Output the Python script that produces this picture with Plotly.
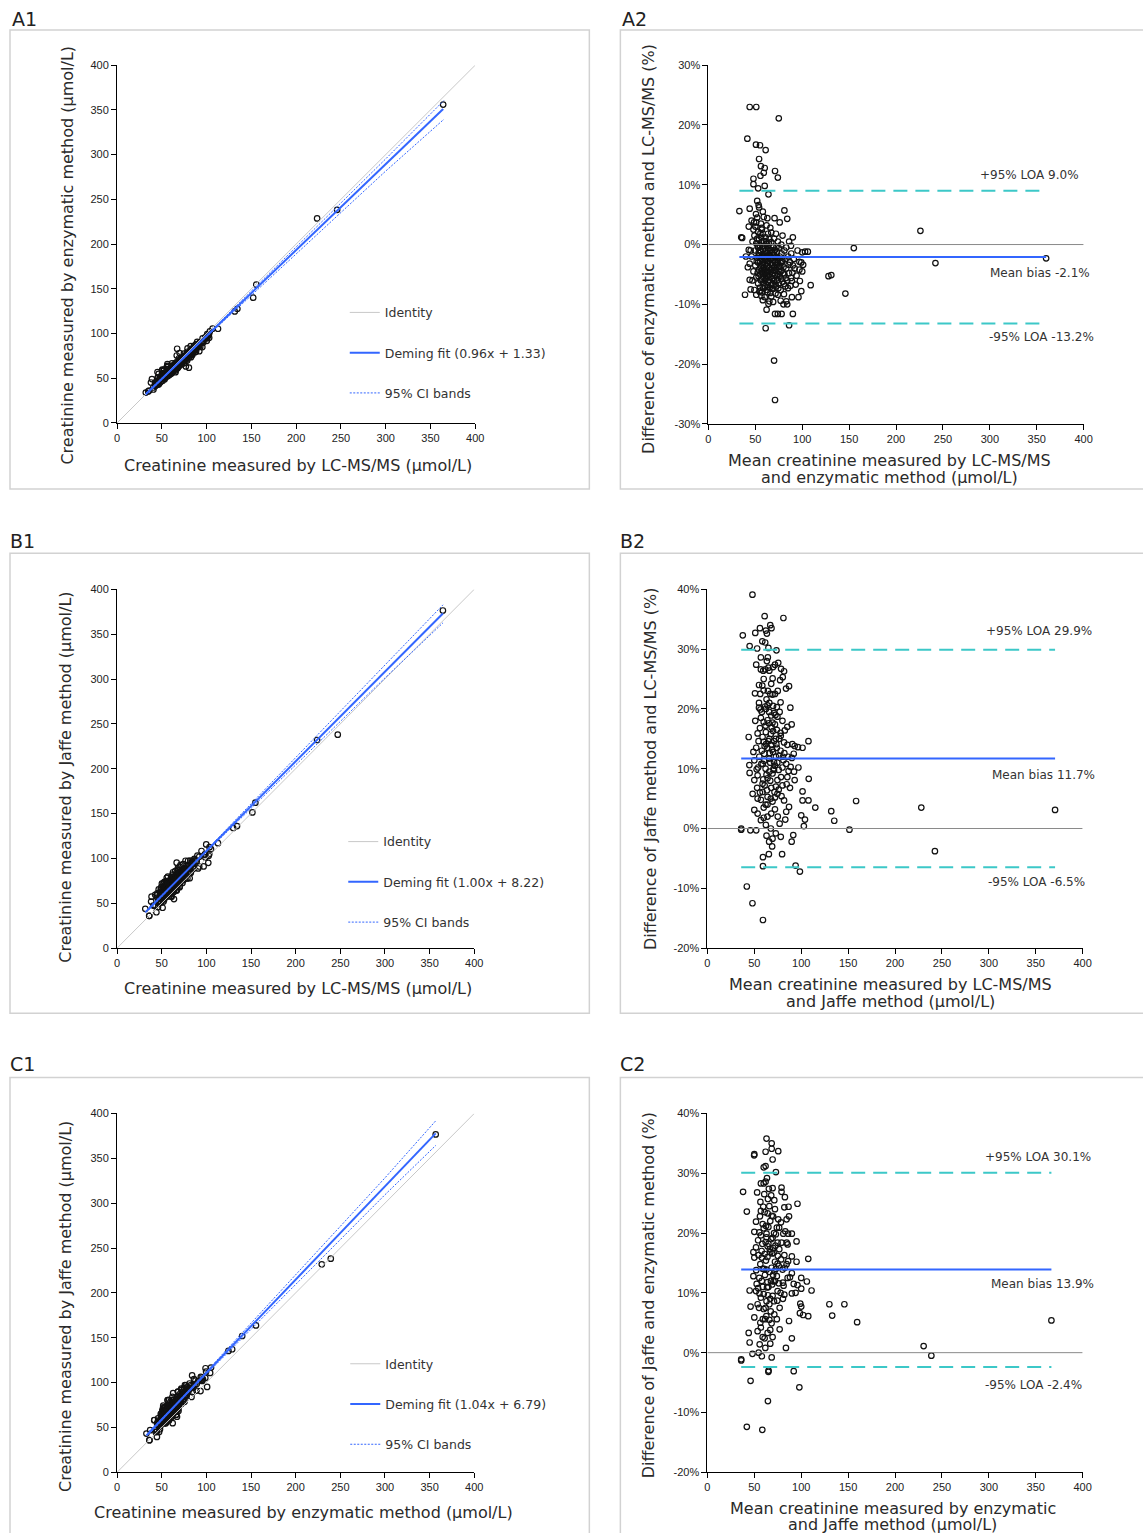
import plotly.graph_objects as go

# The screenshot maps page pixels to picture pixels as  pic = OFF + S * page  (measured);
# positions below are given in picture pixels of the reference and mapped back.
BODY_MARGIN = 0
OFF_X, OFF_Y = 3.0, 7.0
SX, SY = 0.989, 0.990
W, H = 1153, 1541

# ---------------- data (mean, % difference) ----------------
A_points = [
    (44, 23.0), (51, 23.0), (75, 21.1), (41.5, 17.7), (50.7, 16.7), (55, 16.6), (61, 15.8), (54, 14.3),
    (56, 13.1), (60, 12.8), (71, 12.3), (59, 12.0), (55.5, 11.5), (74, 11.2), (48, 11.0), (48, 10.1),
    (60, 9.8), (53, 9.4), (64, 8.4), (33, 5.6), (44, 6.0), (52, 7.3), (53.5, 6.6), (81, 5.7), (84, 4.3),
    (76, 3.7), (35, 1.2), (36, 1.1), (90, 1.2), (155, -0.6), (226, 2.3), (242, -3.1), (360, -2.3),
    (128, -5.3), (131, -5.1), (146, -8.2), (109, -6.8), (100, -1.3), (103, -1.2), (106, -1.2),
    (97, -2.9), (101, -3.4), (99, -3.0), (97, -4.2), (100, -4.5), (39, -8.4), (62, -10.9), (64, -9.9),
    (71, -11.6), (74, -11.6), (78, -11.6), (90, -11.6), (61, -14.0), (86, -13.5), (70, -19.4),
    (71, -26.0), (80, -10.0), (83, -9.5), (43, 3.0), (43, -0.9), (44, -3.2), (44, -5.9), (49, -7.6),
    (50.7, 5.1), (48.6, 3.7), (51, 3.7), (56, 3.5), (59, 4.6), (56.7, 2.8), (62.8, 4.4), (70.5, 4.4),
    (66, 2.8), (53, 2.1), (63.5, 1.8), (72, 1.8), (77.7, 0.0), (88, -0.2), (88.3, -1.5), (89, -6.1),
    (97.5, -6.1), (99, -7.8), (89, -8.8), (96, -8.8), (60, -8.8), (55.7, -7.7), (67, -8.7), (74, -8.4),
    (80.5, -8.3), (84.8, -7.3),
    (46, -2.0), (47, 0.5), (48, -4.5), (49, 1.5), (50, -1.0), (50, -3.5), (51, 0.2), (51, -5.5),
    (52, -2.2), (52, 1.0), (53, -0.5), (53, -6.5), (53, -3.0), (54, 0.8), (54, -1.8), (54, -4.2),
    (55, -0.2), (55, -2.8), (55, -5.0), (55, -7.2), (56, 1.3), (56, -1.2), (56, -3.6), (56, -6.0),
    (57, 0.3), (57, -2.0), (57, -4.5), (57, -8.0), (58, -0.8), (58, -3.0), (58, -5.4), (58, 1.8),
    (59, -1.6), (59, -3.9), (59, -6.4), (59, 0.6), (60, -2.5), (60, -4.8), (60, -0.3), (60, -7.0),
    (61, -1.0), (61, -3.3), (61, -5.8), (61, 1.2), (62, -2.0), (62, -4.2), (62, -6.8), (62, 0.1),
    (63, -1.4), (63, -3.6), (63, -5.2), (63, -8.0), (64, -0.6), (64, -2.7), (64, -4.6), (64, -7.1),
    (65, 0.9), (65, -1.9), (65, -3.9), (65, -6.0), (66, -0.9), (66, -3.1), (66, -5.4), (66, -8.1),
    (67, -2.2), (67, -4.3), (67, 0.4), (67, -6.7), (68, -1.4), (68, -3.5), (68, -5.7), (69, -0.4),
    (69, -2.6), (69, -4.8), (69, -7.4), (70, -1.8), (70, -3.9), (70, -6.1), (71, -0.9), (71, -3.0),
    (71, -5.1), (72, -2.1), (72, -4.3), (72, -7.0), (73, -1.2), (73, -3.4), (73, -6.0), (74, -2.6),
    (74, -4.9), (75, -0.6), (75, -3.7), (75, -6.5), (76, -2.0), (76, -5.2), (77, -3.1), (77, -7.6),
    (78, -1.5), (78, -4.4), (79, -2.7), (79, -6.2), (80, -3.8), (81, -1.0), (81, -5.0), (82, -2.4),
    (82, -7.0), (83, -4.0), (84, -6.0), (85, -2.0), (86, -4.8), (87, -3.0), (88, -5.6), (91, -2.4),
    (92, -4.0), (93, -6.7), (95, -1.0), (94, -5.2), (47, -6.0), (45, -1.0), (48, 2.5), (46, 4.0),
    (50, 3.0), (52, 4.5), (57, 2.5), (54, 6.2), (58, 5.5), (62, 3.2), (67, 2.0), (70, 1.0), (74, 0.5),
    (79, 1.5), (83, -0.5), (86, 0.5), (90, -3.5), (40, -2.0), (42, -3.8), (45, -7.5), (51, -8.4),
    (58, -9.3), (65, -9.5), (69, -9.6), (77, -9.4), (84, -10.0),
    (54.5, -1.0), (55.5, -3.9), (56.5, -2.4), (57.5, -5.8), (58.5, -1.9), (59.5, -4.4), (60.5, -1.5),
    (61.5, -4.6), (62.5, -3.0), (63.5, -6.3), (64.5, -1.8), (65.5, -5.0), (66.5, -2.5), (67.5, -7.4),
    (68.5, -3.1), (69.5, -5.6), (70.5, -2.7), (71.5, -6.7), (72.5, -3.8), (73.5, -5.3), (58.5, -7.3),
    (62.5, -7.6), (57.5, -0.3), (61.5, 0.5), (64.5, 0.2), (52.5, -4.7), (53.5, -1.4),
    (51.5, -2.8), (52.5, -0.2), (53.5, -5.3), (54.5, -7.9), (55.5, 1.9), (56.5, -8.6), (57.5, -3.4),
    (58.5, -4.7), (59.5, -2.2), (60.5, -6.0), (61.5, -2.3), (62.5, -5.4), (63.5, -0.2), (64.5, -3.9),
    (65.5, -7.2), (66.5, -4.2), (67.5, -1.0), (68.5, -6.6), (69.5, -1.3), (70.5, -4.4), (71.5, -8.2),
    (72.5, -0.4), (73.5, -2.2), (74.5, -7.3), (75.5, -4.6), (76.5, -3.6), (77.5, -5.7), (78.5, -2.9),
    (79.5, -4.8), (80.5, -6.6), (82.5, -5.6), (85.5, -3.4), (87.5, -6.9), (89.5, -4.7),
]

B_points = [
    (48, 39.1), (61, 35.5), (81, 35.2), (37.7, 32.3), (51, 32.7), (56, 33.5), (63.4, 32.6), (62.3, 33.1),
    (67, 34.0), (68.3, 33.5), (58.5, 31.3), (61.6, 31.1), (45, 30.5), (53, 30.1), (73.6, 29.8),
    (64.4, 28.6), (63.4, 28.0), (52, 27.4), (57, 26.6), (59.5, 26.4), (61.6, 26.6), (65, 26.9), (66, 26.4),
    (72, 27.4), (78.5, 26.7), (81.7, 26.3), (80.3, 25.3), (77.5, 24.8), (83.8, 23.4), (87, 23.8),
    (50.7, 22.6), (56.3, 22.5), (60, 23.1), (67, 22.5), (69.4, 22.4), (74, 20.3), (78, 21.1), (88.4, 20.2),
    (55, 20.2), (62.3, 20.0), (65.8, 19.5), (71, 19.3), (57, 18.5), (64, 18.1), (69.4, 17.7), (74.6, 18.7),
    (80, 18.0), (85.2, 17.0), (89.8, 17.4), (44, 15.3), (107.7, 14.6), (101.4, 13.5), (96.5, 13.6),
    (93, 13.8), (53.5, 15.9), (58.8, 15.3), (62.3, 16.1), (67.6, 15.8), (72.9, 15.0), (78.2, 15.5),
    (81.7, 14.4), (85.2, 14.0), (90.5, 14.1), (44.7, 10.6), (45, 9.3), (50, 11.4), (55.3, 12.0),
    (60.6, 12.5), (65.8, 11.7), (71, 11.1), (76.4, 12.2), (81, 11.4), (88.7, 10.3), (92.3, 9.5), (93, 8.1),
    (108, 8.3), (50, 8.1), (53.5, 8.9), (58.8, 7.5), (64.1, 8.4), (69.4, 9.2), (74.6, 8.1), (80, 7.2),
    (85.2, 8.6), (48.2, 5.8), (53.5, 5.0), (58.8, 6.1), (64.1, 5.3), (69.4, 4.5), (74.6, 5.8), (81.7, 4.7),
    (87, 3.6), (101.4, 6.2), (101.4, 4.7), (107.7, 4.7), (115, 3.5), (132, 2.9), (135.2, 1.3),
    (158.5, 4.6), (151.4, -0.2), (102.8, 0.4), (104, 1.5), (100, 2.2), (91.5, -1.1), (89.8, -2.2),
    (36, 0.0), (36, -0.2), (45.8, -0.3), (52, -0.3), (50, 3.1), (53.5, 2.5), (57, 1.4), (62.3, 0.6),
    (67.6, 0.0), (72.9, -0.8), (78.2, -1.4), (65.8, -2.2), (69.4, -1.7), (59.2, -4.8), (65.5, -4.3),
    (79.6, -4.3), (59.2, -6.3), (94, -6.2), (98.6, -7.2), (42, -9.7), (48, -12.5), (59.2, -15.3),
    (228, 3.5), (242.5, -3.8), (370.6, 3.1),
    (58, 13.0), (60, 14.5), (62, 10.0), (64, 13.5), (66, 9.5), (68, 14.0), (70, 12.8), (72, 10.5),
    (74, 16.5), (76, 9.8), (78, 13.0), (80, 10.2), (62, 17.2), (66, 21.0), (70, 16.3), (72, 22.5),
    (58, 19.5), (56, 16.8), (54, 10.2), (52, 13.5), (60, 3.5), (64, 2.0), (68, 6.8), (72, 3.2), (76, 6.5),
    (82, 12.6), (84, 10.8), (86, 12.0), (88, 6.8), (90, 11.8), (55, 24.0), (60, 25.0), (63, 21.6),
    (68, 24.2), (65, 30.2), (75, 23.0), (70, 27.0), (57, 28.6), (77, 19.5), (61, 7.2), (67, 11.0),
    (71, 14.6), (73, 7.0), (75, 2.0), (79, 5.4), (83, 1.5), (69, -3.0), (77, 0.8), (84, 2.8), (63, -1.2),
    (57, 4.8), (53, 6.8), (49, 12.8), (51, 18.0), (55, 21.0), (62, 4.0), (66, 15.0), (70, 20.5),
    (74, 13.5), (78, 16.0), (92, 12.5), (97, 10.2),
    (59, 10.8), (61, 13.8), (63, 9.0), (65, 14.6), (67, 8.0), (69, 13.2), (71, 9.8), (73, 12.0),
    (60, 17.8), (64, 20.6), (68, 18.9), (72, 17.4), (56, 6.0), (60, 1.8), (64, 4.0), (68, 2.5), (72, 5.2),
    (52.5, 9.9), (54.5, 14.6), (56.5, 19.9), (58.5, 23.9), (60.5, 11.3), (62.5, 14.1), (64.5, 23.0),
    (66.5, 12.6), (68.5, 16.9), (70.5, 10.0), (72.5, 19.0), (74.5, 11.0), (76.5, 15.0), (78.5, 8.6),
    (80.5, 12.0), (82.5, 16.4), (84.5, 7.4), (86.5, 9.6), (59.5, 8.2), (63.5, 6.4), (67.5, 5.0),
    (71.5, 6.1), (65.5, 17.6), (61.5, 20.4), (69.5, 25.1), (75.5, 27.7), (57.5, 10.8), (73.5, 14.1),
]

C_points = [
    (63, 35.8), (68.5, 35.0), (75.5, 33.7), (68.5, 34.1), (62, 33.6), (50, 33.2), (49.8, 33.0),
    (69.5, 32.3), (62, 31.2), (73, 30.2), (38, 26.9), (42, 23.6), (96, 24.9), (79, 27.6), (79, 26.9),
    (82.6, 26.0), (86.5, 24.4), (87, 22.8), (86, 19.9), (90, 19.9), (95, 18.6), (90, 16.1), (95, 15.2),
    (107.5, 15.7), (100, 12.5), (106, 11.9), (111, 10.4), (100, 10.7), (96, 11.3), (90, 9.9), (99, 8.2),
    (100, 7.7), (98.6, 6.6), (102, 6.3), (107.5, 6.1), (130, 8.1), (146, 8.1), (133, 6.2), (159.6, 5.1),
    (366.7, 5.4), (230.5, 1.1), (238.7, -0.5), (87, 5.3), (90, 2.4), (83.7, 0.8), (45, 10.4), (46, 7.7),
    (44, 3.3), (45, 1.7), (48, -0.2), (36, -1.3), (36, -1.1), (46, -4.7), (65, -3.2), (65.2, -3.0),
    (92, -3.1), (98, -5.8), (64.5, -8.1), (42, -12.4), (58.5, -12.9), (68.5, -0.8), (58, -0.6),
    (54.6, 0.0), (49, 16.8), (50, 20.2), (49, 12.8),
    (57, 28.3), (60, 28.3), (53, 26.8), (60.6, 26.5), (64.5, 25.7), (69.5, 27.5), (71.3, 25.5), (57, 23.7),
    (64.2, 23.3), (72, 24.0), (75.5, 22.3), (82, 24.3), (51.8, 21.9), (58.9, 21.5), (67, 22.0), (74, 20.9),
    (78.4, 21.8), (84.4, 22.3), (55.3, 20.1), (63, 19.9), (69.5, 19.2), (74.8, 18.4), (80.9, 19.9),
    (85.5, 18.1), (51.8, 17.6), (57.8, 17.0), (64.2, 17.8), (70.6, 16.7), (76.6, 17.3), (82, 16.3),
    (50, 15.9), (56.4, 14.8), (62.4, 15.4), (68.4, 14.2), (74.8, 14.9), (80.1, 13.9), (84.4, 14.8),
    (55.3, 12.5), (61.3, 13.0), (67.7, 12.0), (74, 12.8), (80.5, 11.7), (85.5, 12.5), (51.8, 10.3),
    (57, 9.2), (63.5, 10.9), (69.5, 9.5), (74.8, 10.3), (81.2, 11.2), (53.5, 8.1), (59.9, 7.3), (66, 8.1),
    (71.3, 6.4), (77, 7.5), (50, 5.9), (56.4, 5.0), (62.8, 6.1), (68.4, 4.9), (74, 5.6), (77, 3.9),
    (53.5, 3.6), (58.9, 2.6), (64.2, 3.3), (69.5, 2.6), (55.7, 1.4), (61.7, 0.8), (67, 1.5),
    (60, 20.8), (62, 18.5), (64, 16.0), (66, 13.5), (68, 19.0), (70, 17.5), (72, 15.2), (58, 12.0),
    (60, 9.8), (62, 7.5), (64, 11.8), (66, 24.5), (68, 26.3), (56, 22.8), (54, 18.8), (52, 13.8),
    (58, 15.9), (72, 12.0), (76, 14.5), (78, 10.0), (70, 22.8), (62, 28.6), (60, 31.0), (65, 21.0),
    (67, 9.0), (73, 19.8), (55, 7.5), (57, 4.2), (61, 2.4), (59, 11.0), (63, 13.9), (69, 16.6), (71, 8.6),
    (75, 16.2), (79, 18.4), (83, 20.3), (82, 9.7), (86, 15.3), (88, 12.6), (90, 13.3), (92, 11.5),
    (94, 10.0), (63, 19.3), (66, 5.5), (54, 10.8),
    (59, 14.0), (61, 16.5), (65, 11.0), (67, 16.8), (69, 11.4), (71, 20.0), (73, 14.0), (61, 23.5),
    (65, 18.2), (57, 19.6), (63, 8.6), (67, 3.8), (59, 5.6), (70, 13.0), (76, 11.6),
    (52.5, 11.5), (54.5, 16.3), (56.5, 25.2), (58.5, 18.2), (60.5, 14.0), (62.5, 21.2), (64.5, 9.6),
    (66.5, 17.3), (68.5, 22.9), (70.5, 11.9), (72.5, 17.9), (74.5, 8.7), (76.5, 20.9), (78.5, 15.6),
    (80.5, 9.0), (82.5, 14.2), (84.5, 18.4), (61.5, 5.6), (65.5, 27.4), (59.5, 24.4), (67.5, 6.9),
    (71.5, 13.6), (55.5, 9.9), (63.5, 29.2),
]

CONC_TICKS = [0, 50, 100, 150, 200, 250, 300, 350, 400]
A2_PCT_TICKS = [-30, -20, -10, 0, 10, 20, 30]
BC2_PCT_TICKS = [-20, -10, 0, 10, 20, 30, 40]

# Deming fits (slope, intercept) as given in the legends
FIT_A = (0.96, 1.33)
FIT_B = (1.00, 8.22)
FIT_C = (1.04, 6.79)

# 95% CI bands
CI_A_X = [32, 65, 100, 150, 200, 250, 300, 365]
CI_A_UP = [33.3, 64.2, 98.2, 147.5, 196.7, 246.0, 295.2, 360.5]
CI_A_LO = [30.8, 63.2, 96.3, 142.6, 189.0, 235.3, 281.6, 339.5]
CI_B_X = [36, 65, 100, 150, 200, 250, 300, 365]
CI_B_UP = [45.7, 73.7, 109.2, 160.7, 212.2, 263.7, 315.2, 382.7]
CI_B_LO = [42.7, 72.7, 107.2, 155.7, 204.2, 252.7, 301.2, 362.7]
CI_C_X = [36, 65, 100, 150, 200, 250, 300, 357]
CI_C_UP = [45.9, 75.0, 112.2, 166.2, 220.2, 274.2, 328.2, 392.0]
CI_C_LO = [42.5, 73.8, 109.4, 159.4, 209.4, 259.4, 309.4, 364.5]

BIAS = {"A": -2.1, "B": 11.7, "C": 13.9}
LOA_UP = {"A": 9.0, "B": 29.9, "C": 30.1}
LOA_LO = {"A": -13.2, "B": -6.5, "C": -2.4}

# ---------------- styling ----------------
FONT = "DejaVu Sans"
TICKFONT = dict(family="Liberation Sans, Arial", size=11, color="#222")
TITLE_COLOR = "#2a2a2a"
BLUE = "#3366ff"
TEAL = "#3cc8c8"


def page_x(px):
    return (px - OFF_X) / SX - BODY_MARGIN


def page_y(py):
    return (py - OFF_Y) / SY - BODY_MARGIN


def fx(px):
    return page_x(px) / W


def fy(py):
    return 1 - page_y(py) / H


def unzip(pts):
    return [p[0] for p in pts], [p[1] for p in pts]


fig = go.Figure()

# plot areas in reference pixels: (left, right, top, bottom)
AREAS = {
    1: (117, 475, 66, 423), 2: (708, 1083, 66, 424),
    3: (117, 474, 589, 947), 4: (707, 1082, 589, 947),
    5: (117, 474, 1112, 1470), 6: (707, 1082, 1112, 1470),
}


def axname(i, kind):
    return kind if i == 1 else f"{kind}{i}"


MARKER = dict(symbol="circle-open", size=5.5, color="#111", line=dict(width=1.2, color="#111"))


def comparison_panel(i, pts, fit, ci_x, ci_up, ci_lo, legend, fit_label):
    xa, ya = axname(i, "x"), axname(i, "y")
    mean, diff = unzip(pts)
    xs = [m * (1 - d / 200) for m, d in zip(mean, diff)]
    ys = [m * (1 + d / 200) for m, d in zip(mean, diff)]
    fig.add_trace(go.Scatter(x=xs, y=ys, mode="markers", xaxis=xa, yaxis=ya, showlegend=False,
                             marker=MARKER, hoverinfo="skip"))
    fig.add_trace(go.Scatter(x=[0, 400], y=[0, 400], mode="lines", xaxis=xa, yaxis=ya,
                             name="Identity", legend=legend, legendgroup="id",
                             line=dict(color="#c8c8c8", width=1)))
    x0, x1 = min(xs), max(xs)
    fig.add_trace(go.Scatter(x=[x0, x1], y=[fit[0] * x0 + fit[1], fit[0] * x1 + fit[1]], mode="lines",
                             xaxis=xa, yaxis=ya, name=fit_label, legend=legend, legendgroup="fit",
                             line=dict(color=BLUE, width=2)))
    fig.add_trace(go.Scatter(x=ci_x, y=ci_up, mode="lines", xaxis=xa, yaxis=ya,
                             name="95% CI bands", legend=legend, legendgroup="ci",
                             line=dict(color=BLUE, width=1, dash="2px,1.5px")))
    fig.add_trace(go.Scatter(x=ci_x, y=ci_lo, mode="lines", xaxis=xa, yaxis=ya, showlegend=False,
                             legend=legend, legendgroup="ci",
                             line=dict(color=BLUE, width=1, dash="2px,1.5px")))


def ba_panel(i, pts, key):
    xa, ya = axname(i, "x"), axname(i, "y")
    mean, diff = unzip(pts)
    fig.add_trace(go.Scatter(x=mean, y=diff, mode="markers", xaxis=xa, yaxis=ya, showlegend=False,
                             marker=MARKER, hoverinfo="skip"))
    fig.add_trace(go.Scatter(x=[0, 400], y=[0, 0], mode="lines", xaxis=xa, yaxis=ya, showlegend=False,
                             line=dict(color="#8a8a8a", width=1)))
    x0, x1 = min(mean), max(mean)
    for val in (LOA_UP[key], LOA_LO[key]):
        fig.add_trace(go.Scatter(x=[x0, x1], y=[val, val], mode="lines", xaxis=xa, yaxis=ya,
                                 showlegend=False, line=dict(color=TEAL, width=2, dash="14px,8px")))
    fig.add_trace(go.Scatter(x=[x0, x1], y=[BIAS[key], BIAS[key]], mode="lines", xaxis=xa, yaxis=ya,
                             showlegend=False, line=dict(color=BLUE, width=2)))


comparison_panel(1, A_points, FIT_A, CI_A_X, CI_A_UP, CI_A_LO, "legend", "Deming fit (0.96x + 1.33)")
ba_panel(2, A_points, "A")
comparison_panel(3, B_points, FIT_B, CI_B_X, CI_B_UP, CI_B_LO, "legend2", "Deming fit (1.00x + 8.22)")
ba_panel(4, B_points, "B")
comparison_panel(5, C_points, FIT_C, CI_C_X, CI_C_UP, CI_C_LO, "legend3", "Deming fit (1.04x + 6.79)")
ba_panel(6, C_points, "C")

layout = dict(width=W, height=H, margin=dict(l=0, r=0, t=0, b=0),
              paper_bgcolor="white", plot_bgcolor="white", font=dict(family=FONT, color=TITLE_COLOR))

for i, (l, r, t, b) in AREAS.items():
    is_ba = i % 2 == 0
    common = dict(showline=True, linecolor="black", linewidth=1, ticks="outside", ticklen=5,
                  tickwidth=1, tickcolor="black", showgrid=False, zeroline=False, tickfont=TICKFONT,
                  fixedrange=True, tickmode="array")
    layout["xaxis" if i == 1 else f"xaxis{i}"] = dict(
        domain=[fx(l), fx(r)], anchor=axname(i, "y"), range=[0, 400], tickvals=CONC_TICKS,
        ticktext=[str(v) for v in CONC_TICKS], **common)
    if not is_ba:
        yr, yt, txt = [0, 400], CONC_TICKS, [str(v) for v in CONC_TICKS]
    else:
        yt = A2_PCT_TICKS if i == 2 else BC2_PCT_TICKS
        yr = [yt[0], yt[-1]]
        txt = [f"{v}%" for v in yt]
    layout["yaxis" if i == 1 else f"yaxis{i}"] = dict(
        domain=[fy(b), fy(t)], anchor=axname(i, "x"), range=yr, tickvals=yt, ticktext=txt, **common)

# legends for the method-comparison panels (first sample line start / first row centre, ref px)
LEG_FONT = dict(family=FONT, size=12.5, color="#333")
for name, (lx, ly) in {"legend": (349.5, 312), "legend2": (348, 840), "legend3": (350, 1361)}.items():
    layout[name] = dict(x=(page_x(lx) - 5) / W, y=1 - (page_y(ly) - 14) / H, xanchor="left", yanchor="top",
                        bgcolor="rgba(0,0,0,0)", font=LEG_FONT, traceorder="grouped",
                        tracegroupgap=21, itemwidth=30)

# panel frames
shapes = []
for (x0, y0, x1, y1) in [(10, 31, 589, 489), (620, 31, 1160, 489), (10, 553, 589, 1012),
                         (620, 553, 1160, 1012), (10, 1076, 589, 1550), (620, 1076, 1160, 1550)]:
    shapes.append(dict(type="rect", xref="paper", yref="paper", x0=fx(x0), x1=fx(x1), y0=fy(y1), y1=fy(y0),
                       line=dict(color="#d2d2d2", width=1.5), fillcolor="rgba(0,0,0,0)", layer="below"))
layout["shapes"] = shapes

ann = []
# panel labels
for txt, x, y in [("A1", 11, 20), ("A2", 621, 20), ("B1", 9, 541), ("B2", 619, 541), ("C1", 9, 1063), ("C2", 619, 1063)]:
    ann.append(dict(text=txt, x=fx(x), y=fy(y), xref="paper", yref="paper", xanchor="left", yanchor="middle",
                    showarrow=False, borderpad=0, font=dict(family=FONT, size=19, color="#222")))

TITLE_FONT = dict(family=FONT, size=16, color=TITLE_COLOR)
titles = [
    ("Creatinine measured by enzymatic method (µmol/L)", 68, 256, -90),
    ("Creatinine measured by LC-MS/MS (µmol/L)", 298, 465, 0),
    ("Difference of enzymatic method and LC-MS/MS (%)", 648, 249, -90),
    ("Mean creatinine measured by LC-MS/MS", 889, 460, 0),
    ("and enzymatic method (µmol/L)", 889, 477, 0),
    ("Creatinine measured by Jaffe method (µmol/L)", 66, 777, -90),
    ("Creatinine measured by LC-MS/MS (µmol/L)", 298, 987, 0),
    ("Difference of Jaffe method and LC-MS/MS (%)", 650, 768, -90),
    ("Mean creatinine measured by LC-MS/MS", 890, 983, 0),
    ("and Jaffe method (µmol/L)", 890, 1000, 0),
    ("Creatinine measured by Jaffe method (µmol/L)", 66, 1305, -90),
    ("Creatinine measured by enzymatic method (µmol/L)", 303, 1510, 0),
    ("Difference of Jaffe and enzymatic method (%)", 648, 1293, -90),
    ("Mean creatinine measured by enzymatic", 892, 1506, 0),
    ("and Jaffe method (µmol/L)", 892, 1522, 0),
]
for txt, x, y, ang in titles:
    ann.append(dict(text=txt, x=fx(x), y=fy(y), xref="paper", yref="paper", xanchor="center",
                    yanchor="middle", textangle=ang, showarrow=False, font=TITLE_FONT))

# Bland-Altman line labels: (axis index, text, value, right edge in ref px, pixel shift)
BA_LABELS = [
    (2, "+95% LOA 9.0%", LOA_UP["A"], 1080, 16),
    (2, "Mean bias -2.1%", BIAS["A"], 1091, -15.5),
    (2, "-95% LOA -13.2%", LOA_LO["A"], 1095, -14),
    (4, "+95% LOA 29.9%", LOA_UP["B"], 1093, 19),
    (4, "Mean bias 11.7%", BIAS["B"], 1096, -16),
    (4, "-95% LOA -6.5%", LOA_LO["B"], 1086, -15),
    (6, "+95% LOA 30.1%", LOA_UP["C"], 1092, 16),
    (6, "Mean bias 13.9%", BIAS["C"], 1095, -14),
    (6, "-95% LOA -2.4%", LOA_LO["C"], 1083, -18),
]
for i, txt, val, xr, shift in BA_LABELS:
    ann.append(dict(text=txt, x=fx(xr), y=val, xref="paper", yref=axname(i, "y"), xanchor="right",
                    yanchor="middle", yshift=shift, showarrow=False,
                    font=dict(family=FONT, size=12, color="#333")))
layout["annotations"] = ann

fig.update_layout(**layout)
fig.write_html("out.html", config={"displayModeBar": False},
               post_script="document.body.style.margin='0px';document.body.style.overflow='hidden';")
